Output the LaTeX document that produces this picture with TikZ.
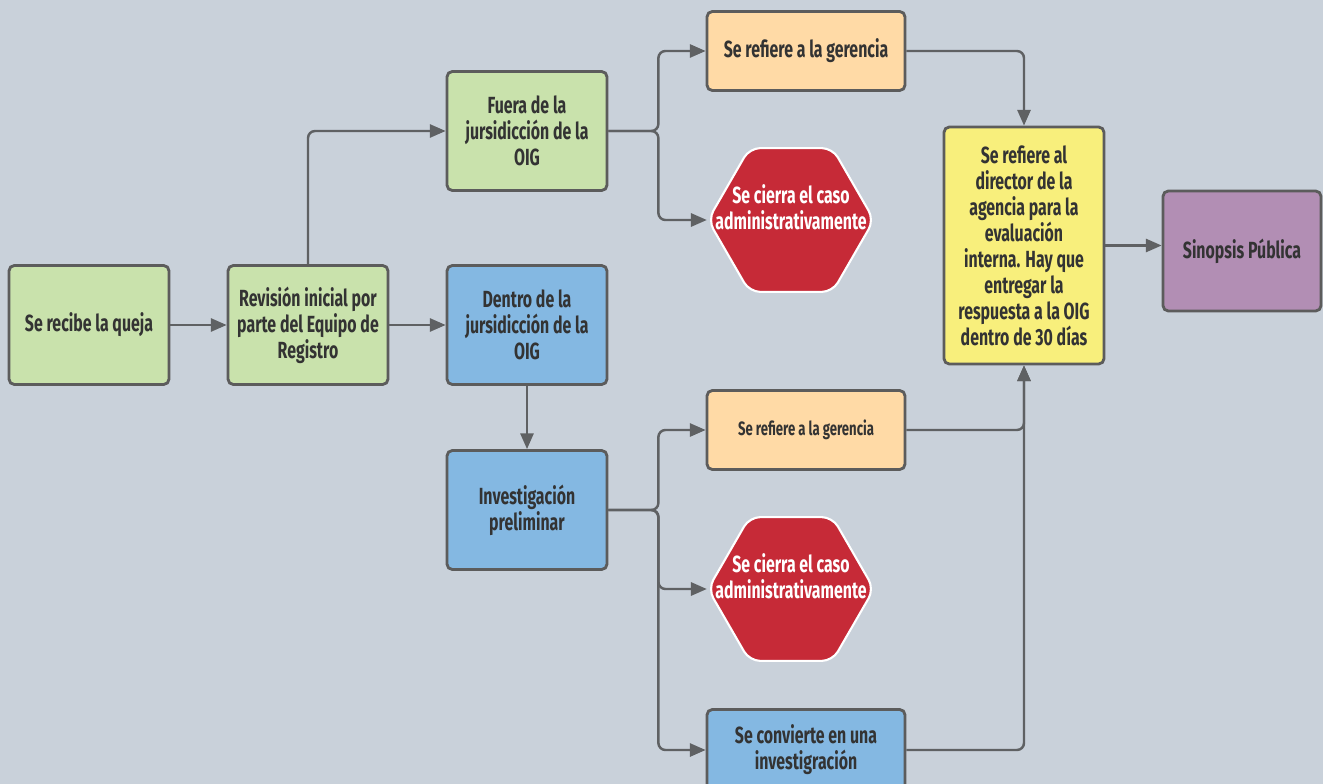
\documentclass[tikz,border=0pt]{standalone}
\usepackage{fontspec}
\setmainfont{Fira Sans}[FakeStretch=0.68]
\usetikzlibrary{arrows.meta,shapes.geometric}
\definecolor{bg}{HTML}{C9D1DA}
\definecolor{greenc}{HTML}{C9E2AC}
\definecolor{bluec}{HTML}{84B8E2}
\definecolor{orangec}{HTML}{FFDAA6}
\definecolor{redc}{HTML}{C62A37}
\definecolor{yellowc}{HTML}{F8EF7C}
\definecolor{purplec}{HTML}{B28EB4}
\definecolor{bordc}{HTML}{5C5C5C}
\definecolor{linec}{HTML}{5F6163}
\definecolor{txt}{HTML}{333333}
\begin{document}
\begin{tikzpicture}[x=0.02cm,y=-0.02cm,
  box/.style={draw=bordc, line width=1.6pt, rounded corners=3pt, align=center, text=txt,
    font=\bfseries\fontsize{13.3}{14.8}\selectfont, inner sep=2pt},
  sbox/.style={box, minimum width=3.2cm, minimum height=2.38cm},
  wbox/.style={box, minimum width=3.96cm, minimum height=1.58cm},
  hexa/.style={regular polygon, regular polygon sides=6, minimum size=3.32cm, fill=redc,
    draw=white, line width=1.2pt, rounded corners=6pt, inner sep=0pt},
  htext/.style={align=center, text=white, font=\bfseries\fontsize{13.3}{14.8}\selectfont, inner sep=0pt},
  arr/.style={draw=linec, line width=1.4pt, -{Triangle[length=9pt,width=7.5pt]}, rounded corners=4pt}]
\fill[bg] (0,0) rectangle (1323,784);
\useasboundingbox (0,0) rectangle (1323,784);

\node[sbox, fill=greenc] (a) at (89,325) {Se recibe la queja};
\node[sbox, fill=greenc] (b) at (308,325) {Revisión inicial por\\parte del Equipo de\\Registro};
\node[sbox, fill=greenc] (c) at (527,131) {Fuera de la\\jursidicción de la\\OIG};
\node[sbox, fill=bluec] (d) at (527,325) {Dentro de la\\jursidicción de la\\OIG};
\node[sbox, fill=bluec] (e) at (527,510) {Investigación\\preliminar};

\node[wbox, fill=orangec] (f) at (806,51) {Se refiere a la gerencia};
\node[hexa] (g) at (791,220) {};
\node[htext] (gt) at (791,207) {Se cierra el caso\\administrativamente};
\node[wbox, fill=orangec, font=\bfseries\fontsize{11}{13}\selectfont] (h) at (806,430) {Se refiere a la gerencia};
\node[hexa] (i) at (791,589) {};
\node[htext] (it) at (791,576) {Se cierra el caso\\administrativamente};
\node[wbox, fill=bluec, minimum height=1.62cm] (j) at (806,750) {Se convierte en una\\investigración};

\node[box, fill=yellowc, minimum width=3.2cm, minimum height=4.74cm] (k) at (1024,245.5)
  {Se refiere al\\director de la\\agencia para la\\evaluación\\interna. Hay que\\entregar la\\respuesta a la OIG\\dentro de 30 días};
\node[box, fill=purplec, minimum width=3.16cm, minimum height=2.4cm] (l) at (1242,251) {Sinopsis Pública};

\draw[arr] (a.east) -- (b.west);
\draw[arr] (b.north) |- (c.west);
\draw[arr] (b.east) -- (d.west);
\draw[arr] (c.east) -- ++(50,0) |- (f.west);
\draw[arr] (c.east) -- ++(50,0) |- (g.west);
\draw[arr] (f.east) -| (k.north);
\draw[arr] (d.south) -- (e.north);
\draw[arr] (e.east) -- ++(50,0) |- (h.west);
\draw[arr] (e.east) -- ++(50,0) |- (i.west);
\draw[arr] (e.east) -- ++(50,0) |- (j.west);
\draw[arr] (h.east) -| (k.south);
\draw[arr] (j.east) -| (k.south);
\draw[arr] (k.east) -- (k.east -| l.west);
\end{tikzpicture}
\end{document}
